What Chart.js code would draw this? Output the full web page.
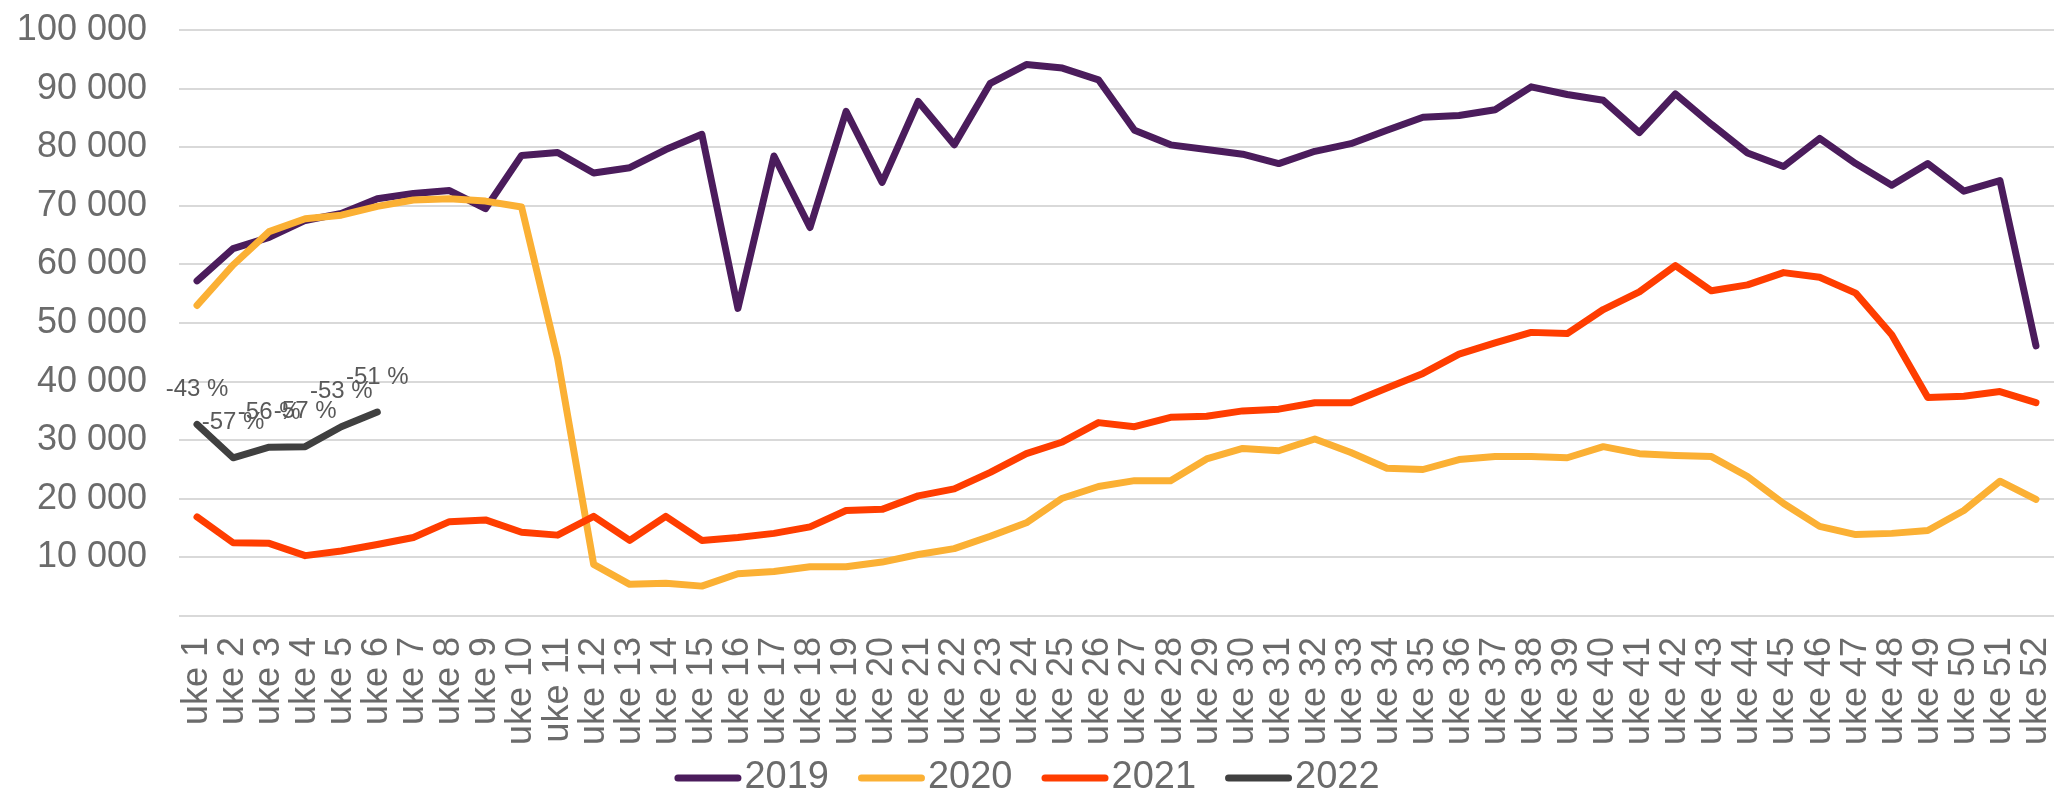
<!DOCTYPE html>
<html>
<head>
<meta charset="utf-8">
<script src="https://cdn.jsdelivr.net/npm/chart.js@4.4.1/dist/chart.umd.min.js"></script>
<style>
  html, body { margin: 0; padding: 0; background: #fff; overflow: hidden; }
  #wrap { width: 2054px; height: 795px; position: relative; }
</style>
</head>
<body>
<div id="wrap"><canvas id="chart"></canvas></div>
<script>
const weeks = [
  'uke 1', 'uke 2', 'uke 3', 'uke 4', 'uke 5', 'uke 6', 'uke 7', 'uke 8', 'uke 9', 'uke 10',
  'uke 11', 'uke 12', 'uke 13', 'uke 14', 'uke 15', 'uke 16', 'uke 17', 'uke 18', 'uke 19', 'uke 20',
  'uke 21', 'uke 22', 'uke 23', 'uke 24', 'uke 25', 'uke 26', 'uke 27', 'uke 28', 'uke 29', 'uke 30',
  'uke 31', 'uke 32', 'uke 33', 'uke 34', 'uke 35', 'uke 36', 'uke 37', 'uke 38', 'uke 39', 'uke 40',
  'uke 41', 'uke 42', 'uke 43', 'uke 44', 'uke 45', 'uke 46', 'uke 47', 'uke 48', 'uke 49', 'uke 50',
  'uke 51', 'uke 52'
]

const y2019 = [
  57200, 62700, 64600, 67500, 68700, 71200, 72100, 72600, 69500, 78600,
  79100, 75600, 76500, 79600, 82200, 52500, 78500, 66300, 86100, 74000,
  87800, 80400, 90900, 94100, 93500, 91500, 82900, 80400, 79600, 78800,
  77200, 79300, 80600, 82900, 85100, 85400, 86400, 90300, 89000, 88000,
  82500, 89100, 83900, 79000, 76700, 81500, 77200, 73500, 77200, 72500,
  74300, 46100
]
const y2020 = [
  53000, 59900, 65600, 67800, 68400, 69900, 71000, 71200, 70800, 69800,
  44000, 8800, 5400, 5600, 5100, 7200, 7600, 8400, 8400, 9200,
  10500, 11500, 13600, 15900, 20100, 22100, 23100, 23100, 26800, 28600,
  28200, 30200, 27900, 25200, 25000, 26700, 27200, 27200, 27000, 28900,
  27700, 27400, 27200, 23800, 19200, 15300, 13900, 14100, 14600, 18000,
  23000, 19900
]
const y2021 = [
  16900, 12500, 12400, 10300, 11100, 12200, 13400, 16100, 16400, 14300,
  13800, 17000, 12900, 17000, 12900, 13400, 14100, 15200, 18000, 18200,
  20500, 21700, 24500, 27700, 29700, 33000, 32300, 33900, 34100, 35000,
  35300, 36400, 36400, 38900, 41400, 44700, 46600, 48400, 48200, 52300,
  55300, 59800, 55500, 56500, 58600, 57800, 55100, 48000, 37300, 37500,
  38300, 36400
]
const y2022 = [32700, 27000, 28800, 28900, 32300, 34800]
const change2022 = ['-43 %', '-57 %', '-56 %', '-57 %', '-53 %', '-51 %']

const years = ['2019', '2020', '2021', '2022']
const colors = ['#4b1c5c', '#fbb034', '#ff3d00', '#404040']

const FONT = '"Liberation Sans", Arial, sans-serif'
const TEXT = '#6b6b6b'

function spaced(v) {
  return String(v).replace(/\B(?=(\d{3})+(?!\d))/g, ' ')
}

// percent labels above the 2022 points
const valueLabels = {
  id: 'valueLabels',
  afterDatasetsDraw(chart) {
    const meta = chart.getDatasetMeta(3)
    const ctx = chart.ctx
    ctx.save()
    ctx.font = '24px ' + FONT
    ctx.fillStyle = '#595959'
    ctx.textAlign = 'center'
    ctx.textBaseline = 'middle'
    meta.data.forEach((pt, i) => {
      ctx.fillText(change2022[i], pt.x, pt.y - 35)
    })
    ctx.restore()
  }
}

// legend row at the bottom (line swatch + year)
const bottomLegend = {
  id: 'bottomLegend',
  afterDraw(chart) {
    const ctx = chart.ctx
    const sw = 67, gap = 3, space = 29
    ctx.save()
    ctx.font = '38px ' + FONT
    const widths = years.map(t => sw + gap + ctx.measureText(t).width)
    const total = widths.reduce((a, b) => a + b, 0) + space * (years.length - 1)
    let x = (chart.width - total) / 2
    const y = chart.height - 17
    years.forEach((t, i) => {
      ctx.strokeStyle = colors[i]
      ctx.lineWidth = 7
      ctx.lineCap = 'round'
      ctx.beginPath()
      ctx.moveTo(x + 3.5, y)
      ctx.lineTo(x + sw - 3.5, y)
      ctx.stroke()
      ctx.fillStyle = TEXT
      ctx.textAlign = 'left'
      ctx.textBaseline = 'middle'
      ctx.fillText(t, x + sw + gap, y)
      x += widths[i] + space
    })
    ctx.restore()
  }
}

const series = [y2019, y2020, y2021, y2022]

const ctx = document.getElementById('chart').getContext('2d')
new Chart(ctx, {
  type: 'line',
  data: {
    labels: weeks,
    datasets: series.map((d, i) => ({
      label: years[i],
      data: d,
      borderColor: colors[i],
      backgroundColor: colors[i],
      borderWidth: 7,
      borderJoinStyle: 'round',
      borderCapStyle: 'round',
      pointRadius: 0,
      tension: 0,
      fill: false,
      order: 4 - i // later years on top
    }))
  },
  options: {
    responsive: true,
    maintainAspectRatio: false,
    animation: false,
    layout: { padding: { left: 17, right: 0, top: 30, bottom: 47 } },
    plugins: {
      legend: { display: false },
      tooltip: { enabled: false }
    },
    scales: {
      x: {
        offset: true,
        grid: { display: false, drawTicks: false },
        border: { display: false },
        ticks: {
          autoSkip: false,
          minRotation: 90,
          maxRotation: 90,
          padding: 21,
          color: TEXT,
          font: { family: FONT, size: 36 }
        },
        afterFit(scale) {
          scale.paddingLeft = 0
          scale.paddingRight = 0
          scale.height = 132
        }
      },
      y: {
        min: 0,
        max: 100000,
        grid: { color: '#d9d9d9', lineWidth: 2, drawTicks: false },
        border: { display: false },
        ticks: {
          stepSize: 10000,
          padding: 32,
          color: TEXT,
          font: { family: FONT, size: 36 },
          callback: v => (v === 0 ? '' : spaced(v))
        },
        afterFit(scale) {
          scale.width = 162
          scale.paddingTop = 0
          scale.paddingBottom = 0
        }
      }
    }
  },
  plugins: [valueLabels, bottomLegend]
})
</script>
</body>
</html>
